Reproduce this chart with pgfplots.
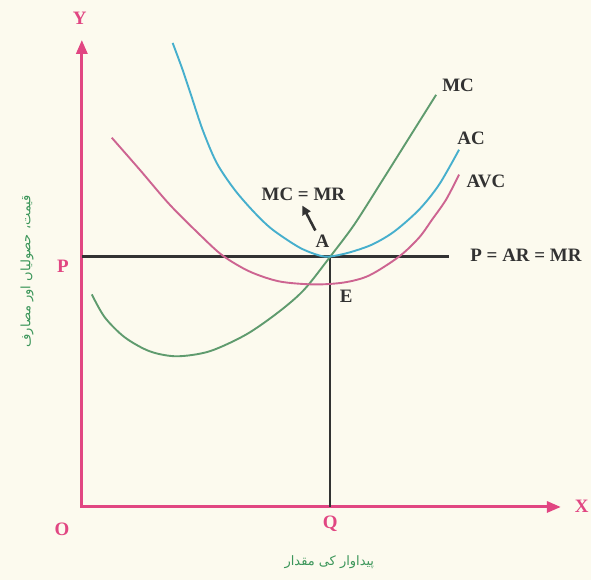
\documentclass[border=0pt]{standalone}
\usepackage{pgfplots}
\pgfplotsset{compat=1.18}
\usepackage{fontspec}
\setmainfont{Liberation Serif}
\newfontfamily\urdufont[Script=Arabic]{DejaVu Sans}
\TeXXeTstate=1
\usetikzlibrary{arrows.meta}
\definecolor{bg}{RGB}{252,250,238}
\definecolor{axpink}{RGB}{225,70,130}
\definecolor{mcgreen}{RGB}{95,155,110}
\definecolor{acblue}{RGB}{70,175,205}
\definecolor{avcpink}{RGB}{205,100,145}
\definecolor{dark}{RGB}{50,50,50}
\definecolor{ugreen}{RGB}{60,150,90}
\tikzset{lab/.style={font=\fontsize{19}{21}\selectfont\bfseries},
         ulab/.style={text=ugreen, font=\urdufont\fontsize{13}{15}\selectfont}}
\begin{document}
\begin{tikzpicture}
\begin{axis}[
  width=592pt, height=581pt, scale only axis,
  xmin=0, xmax=592, ymin=0, ymax=581, y dir=reverse,
  axis line style={draw=none}, xtick=\empty, ytick=\empty,
  axis background/.style={fill=bg},
  clip=false
]
% axes
\addplot[axpink, line width=3pt, {Triangle[length=14pt,width=11pt]}-{Triangle[length=14pt,width=11pt]}]
  coordinates {(82,40) (82,508) (562,508)};
% price line
\addplot[dark, line width=2.3pt] coordinates {(82,257) (450,257)};
% vertical line A-Q
\addplot[dark, line width=2.3pt] coordinates {(331,257) (331,508)};
% MC
\addplot[mcgreen, line width=1.9pt, smooth] coordinates {
 (92,295) (105,318) (125,338) (150,352) (177,357) (210,352) (247,335) (280,312) (305,290) (331,257) (355,225) (383,181) (410,138) (437,95)};
% AC
\addplot[acblue, line width=1.9pt, smooth] coordinates {
 (173,43) (183,70) (192,97) (203,130) (217,163) (235,190) (255,213) (273,230) (300,248) (320,256) (331,257) (350,253) (373,245) (395,232) (420,210) (440,185) (460,150)};
% AVC
\addplot[avcpink, line width=1.9pt, smooth] coordinates {
 (112,138) (140,170) (170,205) (200,235) (223,256) (250,272) (280,282) (315,285) (345,283) (370,276) (400,257) (420,238) (433,220) (447,200) (460,175)};
% arrow MC=MR
\addplot[dark, line width=2.6pt, -{Triangle[length=9pt,width=9pt]}] coordinates {(316,231) (303,206)};
% labels
\node[lab, axpink] at (axis cs:80,18) {Y};
\node[lab, axpink] at (axis cs:583,507) {X};
\node[lab, axpink] at (axis cs:62,530) {O};
\node[lab, axpink] at (axis cs:331,525) {Q};
\node[lab, axpink] at (axis cs:63,267) {P};
\node[lab, dark] at (axis cs:304,195) {MC = MR};
\node[lab, dark] at (axis cs:323,242) {A};
\node[lab, dark] at (axis cs:347,297) {E};
\node[lab, dark] at (axis cs:527,256) {P = AR = MR};
\node[lab, dark] at (axis cs:459,85) {MC};
\node[lab, dark] at (axis cs:472,139) {AC};
\node[lab, dark] at (axis cs:487,182) {AVC};
\node[ulab, rotate=90] at (axis cs:27,272) {\beginR قیمت، حصولیاں اور مصارف\endR};
\node[ulab] at (axis cs:330,563) {\beginR پیداوار کی مقدار\endR};
\end{axis}
\end{tikzpicture}
\end{document}
